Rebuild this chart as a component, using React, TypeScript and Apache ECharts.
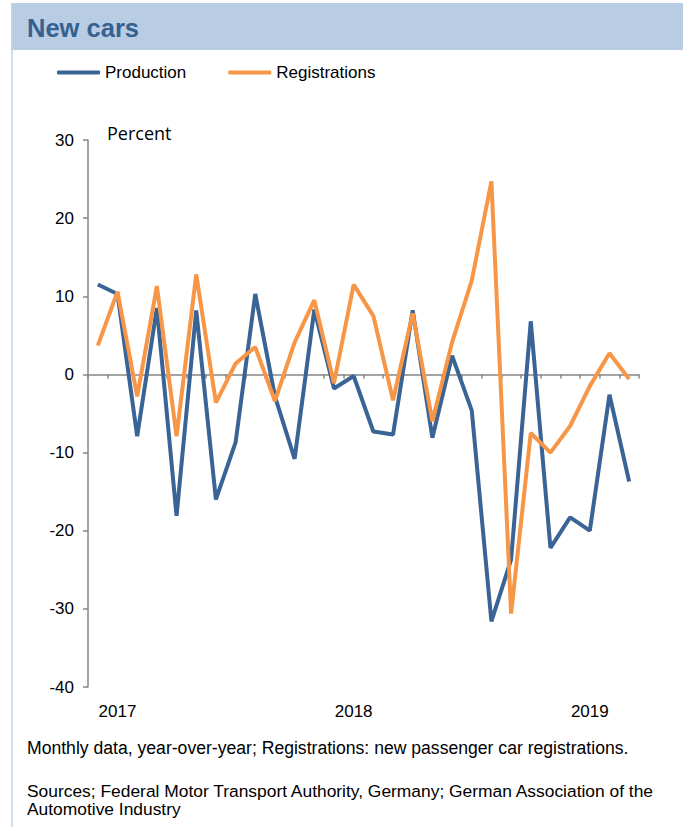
import React, { useEffect, useRef } from "react";
import * as echarts from "echarts";

const months = [
  "2016-12", "2017-01", "2017-02", "2017-03", "2017-04", "2017-05", "2017-06",
  "2017-07", "2017-08", "2017-09", "2017-10", "2017-11", "2017-12", "2018-01",
  "2018-02", "2018-03", "2018-04", "2018-05", "2018-06", "2018-07", "2018-08",
  "2018-09", "2018-10", "2018-11", "2018-12", "2019-01", "2019-02", "2019-03",
];

const production = [
  11.5, 10.3, -7.9, 8.5, -18.1, 8.2, -16.0, -8.7, 10.3, -2.8, -10.8, 8.3, -1.8, -0.2,
  -7.3, -7.7, 8.2, -8.1, 2.4, -4.6, -31.6, -23.7, 6.8, -22.2, -18.3, -20.0, -2.6, -13.7,
];

const registrations = [
  3.7, 10.6, -2.8, 11.3, -7.9, 12.8, -3.6, 1.4, 3.5, -3.4, 4.1, 9.5, -1.1, 11.5,
  7.5, -3.3, 7.8, -6.0, 4.1, 12.0, 24.7, -30.6, -7.5, -10.0, -6.6, -1.5, 2.7, -0.6,
];

const yTicks = { min: -40, max: 30, interval: 10 };

const TITLE = "New cars";
const UNIT = "Percent";
const NOTE = "Monthly data, year-over-year; Registrations: new passenger car registrations.";
const SOURCE1 = "Sources; Federal Motor Transport Authority, Germany; German Association of the";
const SOURCE2 = "Automotive Industry";

const BLUE = "#3A6396";
const ORANGE = "#F79646";
const AXIS = "#868686";
const FONT = "'Liberation Sans', Arial, sans-serif";

export default function App() {
  const ref = useRef<HTMLDivElement>(null);
  useEffect(() => {
    document.body.style.margin = "0";
    if (!ref.current) return;
    const chart = echarts.init(ref.current, null, { renderer: "svg" });
    chart.setOption({
      animation: false,
      backgroundColor: "#ffffff",
      textStyle: { fontFamily: FONT },
      graphic: [
        { type: "rect", shape: { x: 11, y: 3, width: 672, height: 47 }, style: { fill: "#B8CCE4" }, silent: true },
        { type: "line", shape: { x1: 12, y1: 3, x2: 12, y2: 827 }, style: { stroke: "#C5D5E8", lineWidth: 1.5 }, silent: true },
        { type: "text", left: 27, top: 15, style: { text: TITLE, font: `bold 25.5px ${FONT}`, fill: "#35618F" } },
        { type: "text", left: 107, top: 124, style: { text: UNIT, font: `18px 'Open Sans', sans-serif`, fill: "#000" } },
        { type: "text", left: 27, top: 739, style: { text: NOTE, font: `17.6px ${FONT}`, fill: "#000" } },
        { type: "text", left: 27, top: 782, style: { text: SOURCE1, font: `17.4px ${FONT}`, fill: "#000" } },
        { type: "text", left: 27, top: 800, style: { text: SOURCE2, font: `17.4px ${FONT}`, fill: "#000" } },
      ],
      legend: {
        left: 57,
        top: 64,
        padding: 0,
        icon: "roundRect",
        itemWidth: 43,
        itemHeight: 4,
        itemGap: 42,
        textStyle: { fontSize: 17, color: "#000", fontFamily: FONT },
        data: ["Production", "Registrations"],
      },
      grid: { left: 88, right: 44, top: 140, bottom: 140, containLabel: false },
      xAxis: [
        {
          type: "category",
          data: months,
          boundaryGap: true,
          axisLine: { onZero: true, lineStyle: { color: AXIS, width: 1.5 } },
          axisTick: { show: true, interval: 0, length: 4, lineStyle: { color: AXIS, width: 1.5 } },
          axisLabel: { show: false },
          splitLine: { show: false },
        },
        {
          type: "category",
          data: months,
          position: "bottom",
          boundaryGap: true,
          axisLine: { show: false, onZero: false },
          axisTick: { show: false },
          axisLabel: {
            interval: (i: number, v: string) => v.endsWith("-01"),
            formatter: (v: string) => v.slice(0, 4),
            margin: 16,
            fontSize: 17,
            color: "#000",
            fontFamily: FONT,
          },
          splitLine: { show: false },
        },
      ],
      yAxis: {
        type: "value",
        min: yTicks.min,
        max: yTicks.max,
        interval: yTicks.interval,
        axisLine: { show: true, onZero: false, lineStyle: { color: AXIS, width: 1.5 } },
        axisTick: { show: true, length: 5, lineStyle: { color: AXIS, width: 1.5 } },
        axisLabel: { fontSize: 17, color: "#000", margin: 14, fontFamily: FONT },
        splitLine: { show: false },
      },
      series: [
        {
          name: "Production",
          type: "line",
          data: production,
          xAxisIndex: 0,
          showSymbol: false,
          symbol: "none",
          lineStyle: { color: BLUE, width: 4 },
          itemStyle: { color: BLUE },
        },
        {
          name: "Registrations",
          type: "line",
          data: registrations,
          xAxisIndex: 0,
          showSymbol: false,
          symbol: "none",
          lineStyle: { color: ORANGE, width: 4 },
          itemStyle: { color: ORANGE },
        },
      ],
    });
    return () => chart.dispose();
  }, []);
  return <div ref={ref} style={{ width: 683, height: 827 }} />;
}
